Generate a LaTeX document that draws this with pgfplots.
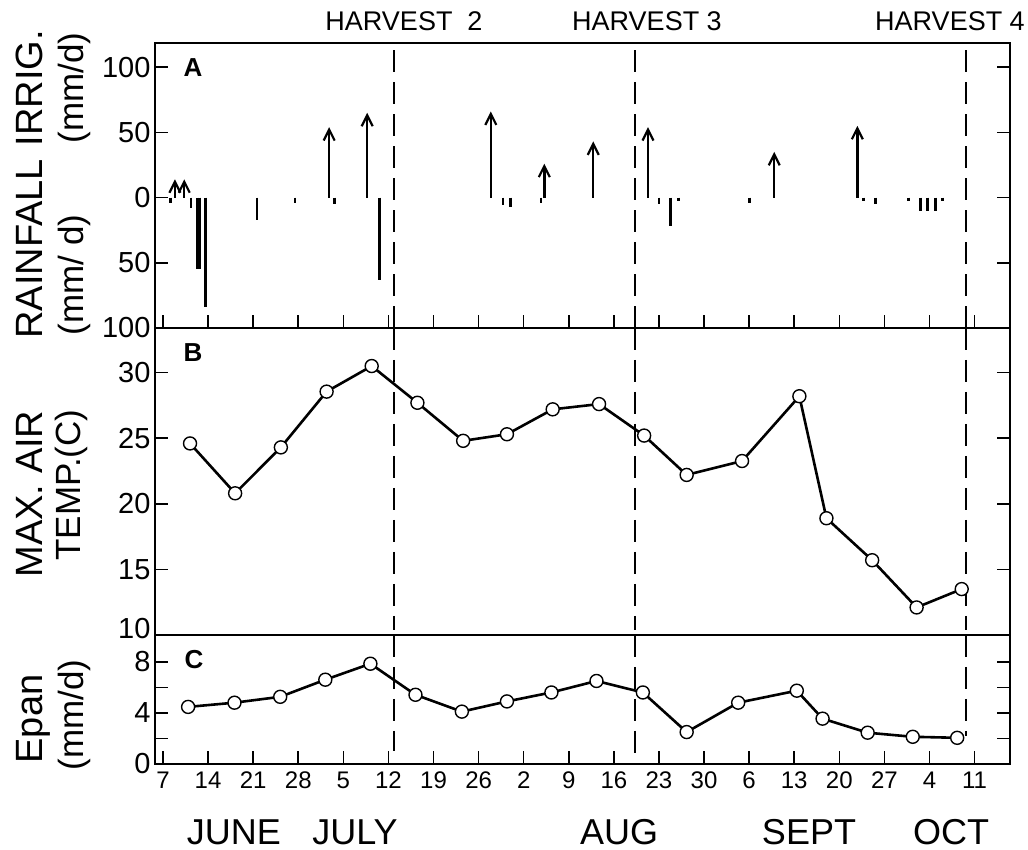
\documentclass[border=0pt]{standalone}
\usepackage{fontspec}
\setmainfont{Liberation Sans}
\usepackage{pgfplots}
\pgfplotsset{compat=1.18}
\usetikzlibrary{arrows.meta}
\newcommand\yf{\fontsize{29}{30}\selectfont}
\newcommand\xf{\fontsize{24}{26}\selectfont}

\pgfplotsset{
  panel/.style={
    scale only axis, width=855pt, xmin=-1.24, xmax=131.5,
    anchor=south west, clip=false,
    axis line style={line width=1.6pt, black},
    tick style={line width=1.6pt, black},
    tick align=inside, major tick length=13pt,
    xtick={0,7,...,126}, xtick pos=bottom,
    ytick pos=both, yticklabel pos=left,
    yticklabel style={font=\yf, xshift=-1pt},
    xticklabel style={font=\xf, yshift=-4pt},
    /pgf/number format/assume math mode=true,
  },
  tline/.style={black, line width=2.6pt, mark=*, mark size=6.5pt,
    mark options={fill=white, draw=black, line width=1.4pt}},
}
\tikzset{harvest/.style={black, line width=2pt, dash pattern=on 22pt off 10pt}}

\begin{document}
\begin{tikzpicture}[x=1pt,y=1pt]
\path[use as bounding box] (0pt,0pt) rectangle (1028pt,850pt);

% ---------------- Panel A ----------------
\begin{axis}[panel, at={(155pt,522pt)}, height=285pt,
  ymin=-100, ymax=118.5, ytick={-100,-50,0,50,100},
  yticklabels={\yf 100,\yf 50,\yf 0,\yf 50,\yf 100}, xticklabels={}]
% rainfall (downward bars)
\addplot[ycomb, black, line width=2.8pt, mark=none] coordinates {
 (1.2,-4) (4.35,-8) (5.3,-55) (5.75,-55) (6.6,-84) (14.6,-17) (20.5,-4)
 (26.6,-5) (33.6,-63) (52.8,-6) (53.9,-7) (58.7,-4) (77,-5) (78.8,-22)
 (80,-3) (91.1,-4) (108.7,-3) (110.6,-5) (115.7,-3) (117.6,-10)
 (118.7,-10) (119.9,-10) (121,-3)};
% irrigation (upward arrows)
\addplot[black, line width=2.4pt, quiver={u=0, v=\thisrow{v}},
  -{Straight Barb[length=11pt,width=11pt,line width=2.2pt]}]
  table[x=x, y=y, row sep=\\] {
 x y v \\
 1.86 0 14 \\
 3.3 0 14 \\
 25.8 0 54 \\
 31.7 0 65 \\
 50.9 0 66 \\
 59.2 0 26 \\
 66.8 0 43 \\
 75.3 0 54 \\
 94.9 0 35 \\
 107.8 0 55 \\
};
\draw[harvest] (axis cs:35.8,113) -- (axis cs:35.8,-100);
\draw[harvest] (axis cs:73.3,113) -- (axis cs:73.3,-100);
\draw[harvest] (axis cs:124.7,113) -- (axis cs:124.7,-100);
\end{axis}

% ---------------- Panel B ----------------
\begin{axis}[panel, at={(155pt,215pt)}, height=307pt,
  ymin=10, ymax=33.4, ytick={10,15,20,25,30},
  yticklabels={\raisebox{14pt}{\yf 10},\yf 15,\yf 20,\yf 25,\yf 30}, xtick=\empty]
\addplot[tline] coordinates {
 (4.2,24.6) (11.2,20.8) (18.3,24.3) (25.4,28.55) (32.4,30.5)
 (39.5,27.7) (46.6,24.8) (53.4,25.3) (60.5,27.2) (67.7,27.6)
 (74.7,25.2) (81.3,22.2) (89.9,23.26) (98.8,28.2) (103,18.9)
 (110.1,15.7) (117,12.1) (124,13.5)};
\draw[harvest] (axis cs:35.8,33.4) -- (axis cs:35.8,10.4);
\draw[harvest] (axis cs:73.3,33.4) -- (axis cs:73.3,10.4);
\draw[harvest] (axis cs:124.7,33.4) -- (axis cs:124.7,10.4);
\end{axis}

% ---------------- Panel C ----------------
\begin{axis}[panel, at={(155pt,86pt)}, height=129pt,
  ymin=0, ymax=10.1, ytick={0,2,4,6,8}, yticklabels={\yf 0,,\yf 4,,\yf 8},
  xticklabels={\xf 7,\xf 14,\xf 21,\xf 28,\xf 5,\xf 12,\xf 19,\xf 26,\xf 2,\xf 9,\xf 16,\xf 23,\xf 30,\xf 6,\xf 13,\xf 20,\xf 27,\xf 4,\xf 11}]
\addplot[tline] coordinates {
 (3.9,4.47) (11.1,4.8) (18.2,5.26) (25.2,6.6) (32.2,7.85)
 (39.2,5.42) (46.4,4.1) (53.4,4.9) (60.3,5.6) (67.3,6.5)
 (74.5,5.6) (81.3,2.5) (89.3,4.8) (98.4,5.74) (102.4,3.55)
 (109.4,2.45) (116.4,2.13) (123.3,2.05)};
\draw[harvest] (axis cs:35.8,10.1) -- (axis cs:35.8,1.0);
\draw[harvest] (axis cs:73.3,10.1) -- (axis cs:73.3,0.6);
\draw[harvest] (axis cs:124.7,10.1) -- (axis cs:124.7,2.2);
\end{axis}

% ---------------- panel letters ----------------
\node[font=\bfseries\fontsize{26}{26}\selectfont] at (193pt,782pt) {A};
\node[font=\bfseries\fontsize{26}{26}\selectfont] at (193pt,497pt) {B};
\node[font=\bfseries\fontsize{26}{26}\selectfont] at (194pt,190pt) {C};

% ---------------- harvest labels ----------------
\node[font=\fontsize{27}{27}\selectfont] at (404pt,829pt) {HARVEST\ \ 2};
\node[font=\fontsize{27}{27}\selectfont] at (647pt,829pt) {HARVEST\ 3};
\node[font=\fontsize{27}{27}\selectfont] at (950pt,829pt) {HARVEST 4};

% ---------------- y labels ----------------
\node[rotate=90, anchor=base, font=\fontsize{38}{40}\selectfont] at (43pt,601pt) {RAINFALL};
\node[rotate=90, anchor=base, font=\fontsize{38}{40}\selectfont] at (43pt,762pt) {IRRIG.};
\node[rotate=90, anchor=base, font=\fontsize{35}{40}\selectfont] at (83pt,762pt) {(mm/d)};
\node[rotate=90, anchor=base, font=\fontsize{35}{40}\selectfont] at (83pt,575pt) {(mm/ d)};
\node[rotate=90, anchor=base, font=\fontsize{38}{40}\selectfont] at (43pt,356pt) {MAX. AIR};
\node[rotate=90, anchor=base, font=\fontsize{35}{40}\selectfont] at (80pt,365pt) {TEMP.(C)};
\node[rotate=90, anchor=base, font=\fontsize{38}{40}\selectfont] at (43pt,131pt) {Epan};
\node[rotate=90, anchor=base, font=\fontsize{35}{40}\selectfont] at (83pt,135pt) {(mm/d)};

% ---------------- month labels ----------------
\node[font=\fontsize{36}{38}\selectfont] at (234pt,18pt) {JUNE};
\node[font=\fontsize{36}{38}\selectfont] at (355pt,18pt) {JULY};
\node[font=\fontsize{36}{38}\selectfont] at (619pt,18pt) {AUG};
\node[font=\fontsize{36}{38}\selectfont] at (809pt,18pt) {SEPT};
\node[font=\fontsize{36}{38}\selectfont] at (951pt,18pt) {OCT};
\end{tikzpicture}
\end{document}
